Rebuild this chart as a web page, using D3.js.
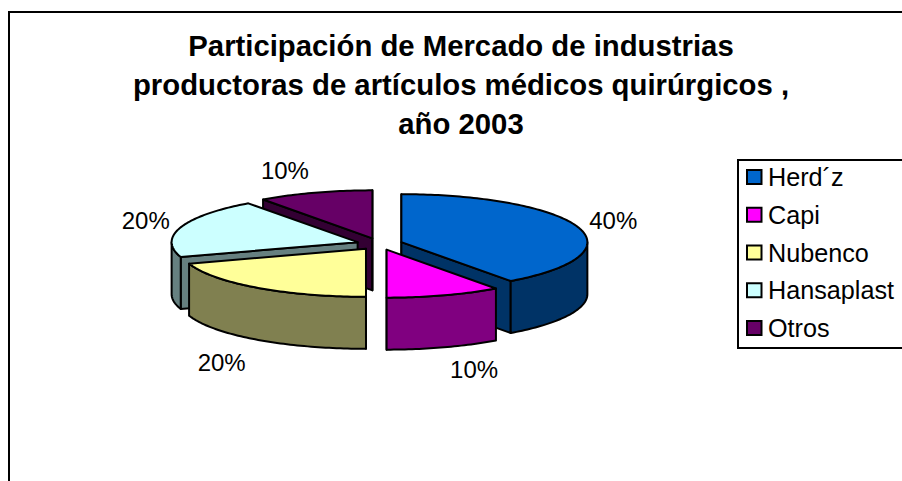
<!DOCTYPE html>
<html><head><meta charset="utf-8">
<script src="https://cdn.jsdelivr.net/npm/d3@7"></script>
<style>
html,body{margin:0;padding:0;background:#fff;overflow:hidden}
svg{display:block}
text{font-family:"Liberation Sans",Arial,sans-serif;fill:#000}
</style></head><body>
<svg id="c" width="902" height="481"></svg>
<script>
const categories = ["Herd´z","Capi","Nubenco","Hansaplast","Otros"];
const values = [40,10,20,20,10];
const topColors = ["#0066cc","#ff00ff","#ffff99","#ccffff","#660066"];
const sideColors = ["#003366","#800080","#808050","#668080","#330033"];
const titleLines = ["Participación de Mercado de industrias","productoras de artículos médicos quirúrgicos ,","año 2003"];

const W=902,H=481;
const cx=379.5,cy=244,rx=186,ry=48,depth=52,explode=23;
const labelNudges=[[35,-7],[30,74],[-35,75],[-35,-7],[-30,-22]];
const paintOrder=[4,3,2,0,1];
const svg=d3.select("#c");

svg.append("rect").attr("x",9).attr("y",12).attr("width",W+20).attr("height",H+20)
  .attr("fill","#fff").attr("stroke","#000").attr("stroke-width",2);

const titleY=[56,95,134];
svg.append("g").selectAll("text").data(titleLines).join("text")
  .attr("x",461).attr("y",(d,i)=>titleY[i]).attr("text-anchor","middle")
  .attr("font-weight","bold").attr("font-size",29.3).text(d=>d);

const sx=d3.scaleLinear().domain([0,1]).range([0,rx]);
const sy=d3.scaleLinear().domain([0,1]).range([0,ry]);
const pie=d3.pie().sort(null).value(d=>d);
const arcs=pie(values);

const pt=(apex,a,r=1,dz=0)=>[apex[0]+sx(Math.sin(a)*r),apex[1]-sy(Math.cos(a)*r)+dz];
const arcPts=(apex,a0,a1,dz=0)=>{
  const n=Math.max(2,Math.ceil((a1-a0)/0.02));
  return d3.range(n+1).map(i=>pt(apex,a0+(a1-a0)*i/n,1,dz));
};
const line=d3.line();
const close=p=>line(p)+"Z";
const g=svg.append("g").attr("stroke","#000").attr("stroke-width",2).attr("stroke-linejoin","round");

const apexes=arcs.map(s=>{
  const m=(s.startAngle+s.endAngle)/2;
  return pt([cx,cy],m,explode/rx);
});

const eps=1e-6;
paintOrder.forEach(i=>{
  const s=arcs[i],ap=apexes[i],a0=s.startAngle,a1=s.endAngle;
  const faces=[];
  if(Math.sin(a0)<=eps) faces.push(a0);
  if(Math.sin(a1)>=-eps) faces.push(a1);
  faces.forEach(a=>{
    const o=pt(ap,a);
    g.append("path").attr("fill",sideColors[i])
      .attr("d",close([ap,o,[o[0],o[1]+depth],[ap[0],ap[1]+depth]]));
  });
  const w0=Math.max(a0,Math.PI/2),w1=Math.min(a1,Math.PI*1.5);
  if(w1>w0){
    const upper=arcPts(ap,w0,w1),lower=arcPts(ap,w0,w1,depth).reverse();
    g.append("path").attr("fill",sideColors[i]).attr("d",close(upper.concat(lower)));
  }
  g.append("path").attr("fill",topColors[i]).attr("d",close([ap].concat(arcPts(ap,a0,a1))));
});

const total=d3.sum(values);
svg.append("g").selectAll("text").data(arcs).join("text")
  .attr("text-anchor","middle").attr("font-size",24)
  .attr("x",(s,i)=>pt(apexes[i],(s.startAngle+s.endAngle)/2)[0]+labelNudges[i][0])
  .attr("y",(s,i)=>pt(apexes[i],(s.startAngle+s.endAngle)/2)[1]+labelNudges[i][1]+8.5)
  .text(s=>Math.round(s.data/total*100)+"%");

const legendY=d3.scalePoint().domain(categories).range([177,328]);
const lg=svg.append("g");
lg.append("rect").attr("x",738).attr("y",160).attr("width",200).attr("height",188)
  .attr("fill","#fff").attr("stroke","#000").attr("stroke-width",2);
categories.forEach((c,i)=>{
  const y=legendY(c);
  lg.append("rect").attr("x",747).attr("y",y-7).attr("width",14.5).attr("height",14)
    .attr("fill",topColors[i]).attr("stroke","#000").attr("stroke-width",2);
  lg.append("text").attr("x",768).attr("y",y+9).attr("font-size",25.2).text(c);
});
</script>
</body></html>
